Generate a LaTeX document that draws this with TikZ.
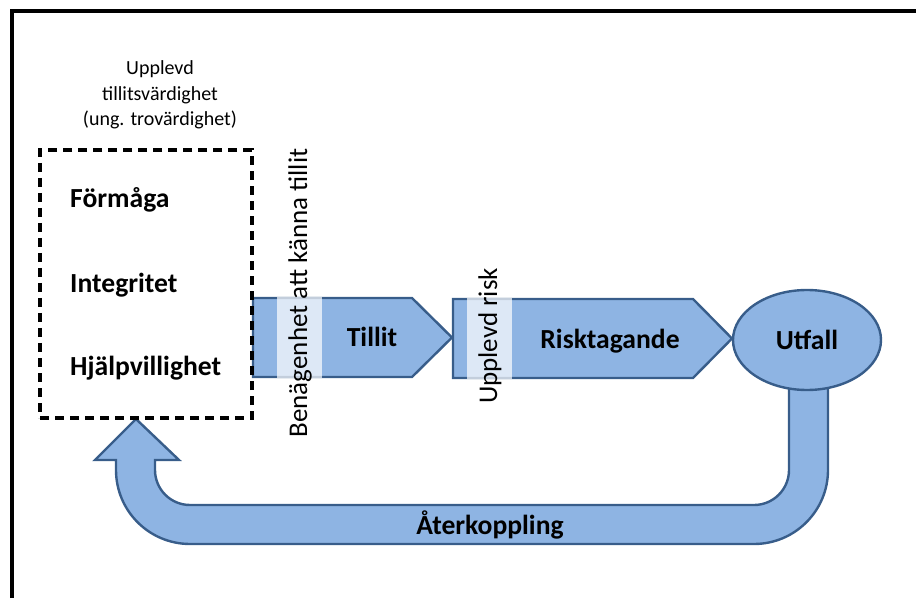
\documentclass[tikz,border=0pt]{standalone}
\usepackage{fontspec}
\setmainfont{Carlito}
\usepackage{xcolor}
\usepackage{tikz}
\usetikzlibrary{positioning,shapes.geometric}
\definecolor{flowfill}{RGB}{142,180,227}
\definecolor{flowline}{RGB}{56,93,138}

\begin{document}
\begin{tikzpicture}[
    x=1pt,y=1pt,
    font=\fontsize{27}{32}\selectfont,
    blockarr/.style={fill=flowfill,draw=flowline,line width=2.4pt,line join=miter},
    band/.style={fill=white,fill opacity=0.7,draw=none},
    lbl/.style={font=\fontsize{27.6}{32}\selectfont\bfseries,inner sep=0pt},
    vlbl/.style={rotate=90,inner sep=0pt},
    trustbox/.style={draw,line width=3.2pt,dash pattern=on 9pt off 6pt,minimum width=212pt,minimum height=268pt,inner sep=0pt}
  ]
    \useasboundingbox (0,0) rectangle (916,598);
    % frame
    \draw[line width=3.2pt] (12,0) -- (12,587) -- (916,587);
    % feedback arrow
    \draw[blockarr] (789,238) -- (789,128) arc[start angle=0,end angle=-90,radius=35]
      -- (190,93) arc[start angle=270,end angle=180,radius=35]
      -- (155,138) -- (179,138) -- (136,179) -- (95,138) -- (116,138)
      -- (116,128) arc[start angle=180,end angle=270,radius=74]
      -- (754,54) arc[start angle=270,end angle=360,radius=74]
      -- (828,238) -- cycle;
    % block arrows
    \draw[blockarr] (253,300) -- (412,300) -- (452,260.5) -- (412,221) -- (253,221) -- cycle;
    \draw[blockarr] (453,299) -- (693,299) -- (732,259.5) -- (693,220) -- (453,220) -- cycle;
    \fill[band] (277,301) rectangle (322,220);
    \fill[band] (467,300) rectangle (512,219);
    \node[ellipse,blockarr,minimum width=148pt,minimum height=100pt,inner sep=0pt] (utfall) at (807,258) {};
    \node[lbl] at (utfall.center) {Utfall};
    % trustworthiness
    \node[trustbox] (box) at (146,314) {};
    \node[align=center,font=\fontsize{20}{25.5}\selectfont] (title) at (160,503) {Upplevd\\tillitsvärdighet\\(ung. trovärdighet)};
    \node[lbl,anchor=west] (formaga) at (70,398) {Förmåga};
    \node[lbl,anchor=west] (integ) at (70,313) {Integritet};
    \node[lbl,anchor=west] (hjalp) at (70,230) {Hjälpvillighet};
    % labels
    \node[vlbl] (benagen) at (300,305) {Benägenhet att känna tillit};
    \node[lbl] (tillit) at (372,261) {Tillit};
    \node[vlbl] (upprisk) at (490,262) {Upplevd risk};
    \node[lbl] (risk) at (610,257) {Risktagande};
    \node[lbl] (aterk) at (490,73) {Återkoppling};
  \end{tikzpicture}
\end{document}
